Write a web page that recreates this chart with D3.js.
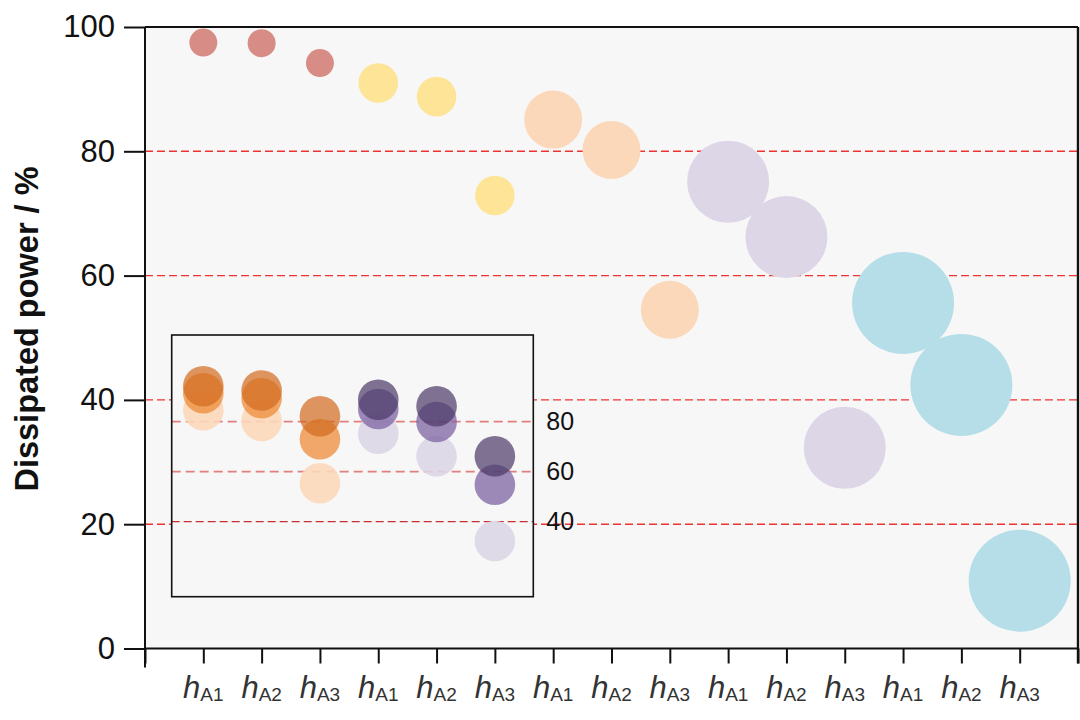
<!DOCTYPE html>
<html><head><meta charset="utf-8">
<script src="https://cdn.jsdelivr.net/npm/d3@7"></script>
<style>
body{margin:0;background:#fff;}
svg{display:block;font-family:"Liberation Sans",Arial,Helvetica,sans-serif;}
</style>
</head><body>
<svg id="chart" width="1080" height="720"></svg>
<script>
// ---------- data ----------
const subscripts = ["A1","A2","A3","A1","A2","A3","A1","A2","A3","A1","A2","A3","A1","A2","A3"];
const powerValues = [97.5, 97.4, 94.2, 91.0, 88.8, 72.9, 85.1, 80.2, 54.5, 75.1, 66.2, 32.3, 55.6, 42.4, 10.9];
const groupIndex = [0,0,0,1,1,1,2,2,2,3,3,3,4,4,4];
const groupSize = [1, 2, 4.3, 8.6, 13.3];
const groupColors = ["#d88c86", "#fde496", "#fbd8ba", "#dcd6e6", "#b6dee8"];
const yTicks = [0, 20, 40, 60, 80, 100];
const gridValues = [20, 40, 60, 80];
const insetDark = [94.2, 92.5, 82.2, 88.8, 86.2, 66.2];
const insetMedium = [91.4, 89.4, 73.0, 85.1, 79.9, 54.8];
const insetLight = [84.6, 80.3, 55.4, 75.2, 66.2, 32.3];
const insetTicks = [40, 60, 80];
const insetColors = {
  orange: {dark: "#d2691e", medium: "#ed8c3a", light: "#fbd8ba"},
  purple: {dark: "#4a3866", medium: "#7e64a3", light: "#dcd6e6"}
};

// ---------- layout ----------
const svg = d3.select("#chart");
const L = 145, R = 1078, T = 27, B = 648.5;
const x = d3.scaleLinear().domain([0, 16]).range([L, R]);
const y = d3.scaleLinear().domain([0, 100]).range([B, T]);
const r = d3.scaleSqrt().domain([0, 13.3]).range([0, 51]);

// plot background
svg.append("rect").attr("x", L).attr("y", T).attr("width", R - L).attr("height", B - T).attr("fill", "#f7f7f7");

// grid lines
svg.append("g").selectAll("line").data(gridValues).join("line")
  .attr("x1", L).attr("x2", R).attr("y1", d => y(d)).attr("y2", d => y(d))
  .attr("stroke", "#ee3333").attr("stroke-width", 1.4).attr("stroke-dasharray", "8,4");

// main bubbles
const pts = powerValues.map((v, i) => ({i, v, g: groupIndex[i]}));
svg.append("g").selectAll("circle").data(pts).join("circle")
  .attr("cx", d => x(d.i + 1)).attr("cy", d => y(d.v))
  .attr("r", d => r(groupSize[d.g]))
  .attr("fill", d => groupColors[d.g]);

// frame
svg.append("line").attr("x1", L).attr("x2", R).attr("y1", T).attr("y2", T).attr("stroke", "#111").attr("stroke-width", 2);
svg.append("line").attr("x1", R).attr("x2", R).attr("y1", T).attr("y2", B + 15).attr("stroke", "#111").attr("stroke-width", 2.4);

// y axis
const yAxis = svg.append("g").attr("transform", `translate(${L},0)`)
  .call(d3.axisLeft(y).tickValues(yTicks).tickSize(21).tickPadding(9).tickFormat(d3.format("d")));
yAxis.select(".domain").remove();
yAxis.selectAll(".tick line").attr("stroke", "#111").attr("stroke-width", 2);
yAxis.selectAll(".tick text").attr("font-size", 31).attr("fill", "#111")
  .attr("font-family", "'Liberation Sans', Arial, sans-serif");
svg.append("line").attr("x1", L).attr("x2", L).attr("y1", T).attr("y2", B + 19).attr("stroke", "#111").attr("stroke-width", 2);

// x axis
const xAxis = svg.append("g").attr("transform", `translate(0,${B})`)
  .call(d3.axisBottom(x).tickValues(d3.range(0, 17)).tickSize(15).tickFormat(""));
xAxis.select(".domain").attr("stroke", "#111").attr("stroke-width", 2).attr("d", `M${L},0H${R}`);
xAxis.selectAll(".tick line").attr("stroke", "#111").attr("stroke-width", 2);

// x labels
const xl = svg.append("g").selectAll("text").data(subscripts).join("text")
  .attr("x", (d, i) => x(i + 1)).attr("y", 698)
  .attr("text-anchor", "middle").attr("fill", "#333");
xl.append("tspan").attr("font-style", "italic").attr("font-size", 31).text("h");
xl.append("tspan").attr("font-size", 19).attr("dy", 3).text(d => d);

// y label
svg.append("text").attr("transform", "translate(38,329) rotate(-90)")
  .attr("text-anchor", "middle").attr("font-weight", "bold").attr("font-size", 32.5).attr("fill", "#111")
  .text("Dissipated power / %");

// ---------- inset ----------
const IX0 = 171.7, IX1 = 533.3, IY0 = 335, IY1 = 596.7;
const yi = d3.scaleLinear().domain([40, 80]).range([521.7, 421.7]);
svg.append("rect").attr("x", IX0).attr("y", IY0).attr("width", IX1 - IX0).attr("height", IY1 - IY0)
  .attr("fill", "#f7f7f7");
svg.append("g").selectAll("line").data(insetTicks).join("line")
  .attr("x1", IX0).attr("x2", IX1).attr("y1", d => yi(d)).attr("y2", d => yi(d))
  .attr("stroke", d => d === 40 ? "#c83030" : "#e06a6a")
  .attr("stroke-width", d => d === 40 ? 1.2 : 1.8)
  .attr("stroke-dasharray", d => d === 40 ? "8,4" : "9,5")
  .attr("opacity", d => d === 40 ? 1 : 0.85);

const insetSeries = [
  {key: "light", vals: insetLight, op: 0.9},
  {key: "medium", vals: insetMedium, op: 0.75},
  {key: "dark", vals: insetDark, op: 0.7}
];
insetSeries.forEach(s => {
  svg.append("g").selectAll("circle").data(s.vals).join("circle")
    .attr("cx", (d, i) => x(i + 1)).attr("cy", d => yi(d)).attr("r", 20.3)
    .attr("fill", (d, i) => (i < 3 ? insetColors.orange : insetColors.purple)[s.key])
    .attr("fill-opacity", s.op);
});
svg.append("rect").attr("x", IX0).attr("y", IY0).attr("width", IX1 - IX0).attr("height", IY1 - IY0)
  .attr("fill", "none").attr("stroke", "#111").attr("stroke-width", 1.6);
svg.append("g").selectAll("text").data(insetTicks).join("text")
  .attr("x", IX1 + 13).attr("y", d => yi(d)).attr("dy", "0.35em")
  .attr("font-size", 25).attr("fill", "#111").text(d => d);
</script>
</body></html>
